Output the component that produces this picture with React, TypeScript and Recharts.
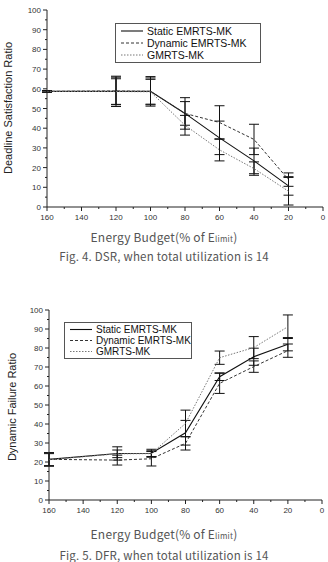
import { LineChart, Line, XAxis, YAxis, ErrorBar } from "recharts";

// energy budget (% of E_limit) sampled in both experiments
const budgets = [160, 120, 100, 80, 60, 40, 20];

// Fig. 4 – deadline satisfaction ratio
const dsrStatic = [58.7, 58.7, 58.7, 47.5, 35.1, 23.4, 10.7];
const dsrStaticErr = [0.4, 7.7, 7.5, 8, 8.5, 6.5, 4.7];
const dsrDynamic = [58.7, 58.9, 58.7, 47.5, 42.9, 34.3, 13.9];
const dsrDynamicErr = [0.4, 7, 6.8, 6, 8.5, 7.7, 3.4];
const dsrGm = [58.7, 58.6, 58.5, 41.5, 29, 19.5, 8];
const dsrGmErr = [0.4, 6.5, 6.3, 5, 5.6, 3.4, 7];

// Fig. 5 – dynamic failure ratio
const dfrStatic = [21.4, 24.5, 24.6, 35.4, 64.9, 75.4, 82];
const dfrStaticErr = [3.5, 3.5, 2.1, 6.5, 2, 4.5, 3.5];
const dfrDynamic = [21.4, 21, 21.7, 29.8, 61.4, 70.2, 78.6];
const dfrDynamicErr = [3.5, 2.6, 3.8, 3.5, 5.3, 3, 3.5];
const dfrGm = [21.2, 24.3, 24.4, 40.3, 74.9, 80.2, 91.2];
const dfrGmErr = [3.2, 2, 1.5, 7, 3.5, 5.8, 6.2];

const xTicks = [160, 150, 140, 130, 120, 110, 100, 90, 80, 70, 60, 50, 40, 30, 20, 10, 0];
const yTicks = [0, 5, 10, 15, 20, 25, 30, 35, 40, 45, 50, 55, 60, 65, 70, 75, 80, 85, 90, 95, 100];

const seriesStyle = [
  { key: "stat", name: "Static EMRTS-MK", stroke: "#111", dash: undefined, width: 1.1 },
  { key: "dyn", name: "Dynamic EMRTS-MK", stroke: "#333", dash: "3 2", width: 1 },
  { key: "gm", name: "GMRTS-MK", stroke: "#777", dash: "1.5 1.5", width: 1 },
];

function buildRows(s: number[], se: number[], d: number[], de: number[], g: number[], ge: number[]) {
  return budgets.map((b, i) => ({
    budget: b,
    stat: s[i], statErr: se[i],
    dyn: d[i], dynErr: de[i],
    gm: g[i], gmErr: ge[i],
  }));
}

const dsrRows = buildRows(dsrStatic, dsrStaticErr, dsrDynamic, dsrDynamicErr, dsrGm, dsrGmErr);
const dfrRows = buildRows(dfrStatic, dfrStaticErr, dfrDynamic, dfrDynamicErr, dfrGm, dfrGmErr);

const AXIS = "#222";
const TICK_FONT = "Arial, 'Liberation Sans', sans-serif";

function XTick(props: any) {
  const { x, y, payload } = props;
  const major = payload.value % 20 === 0;
  return (
    <g>
      <line x1={x} x2={x} y1={y} y2={y + (major ? 4 : 2)} stroke={AXIS} strokeWidth={1} />
      {major && (
        <text x={x} y={y + 13} textAnchor="middle" fontSize={8} fontFamily={TICK_FONT} fill="#333">
          {payload.value}
        </text>
      )}
    </g>
  );
}

function YTick(props: any) {
  const { x, y, payload } = props;
  const major = payload.value % 10 === 0;
  return (
    <g>
      <line x1={x - (major ? 4 : 2)} x2={x} y1={y} y2={y} stroke={AXIS} strokeWidth={1} />
      {major && (
        <text x={x - 6} y={y + 3} textAnchor="end" fontSize={8} fontFamily={TICK_FONT} fill="#333">
          {payload.value}
        </text>
      )}
    </g>
  );
}

function LegendBox({ left, top, w, rowH, fontSize }: { left: number; top: number; w: number; rowH: number; fontSize: number }) {
  const h = rowH * 3 + 4;
  return (
    <svg style={{ position: "absolute", left, top }} width={w} height={h}>
      <rect x={0.5} y={0.5} width={w - 1} height={h - 1} fill="#fff" stroke="#555" strokeWidth={1} />
      {seriesStyle.map((s, i) => {
        const cy = 2 + rowH * i + rowH / 2;
        return (
          <g key={s.key}>
            <line x1={6} x2={28} y1={cy} y2={cy} stroke={s.stroke} strokeWidth={s.width} strokeDasharray={s.dash} />
            <text x={32} y={cy + fontSize * 0.36} fontSize={fontSize} fontFamily={TICK_FONT} fill="#111">
              {s.name}
            </text>
          </g>
        );
      })}
    </svg>
  );
}

function Panel({ rows, width, height, margin, yWidth, xHeight }: any) {
  return (
    <LineChart width={width} height={height} data={rows} margin={margin}>
      <XAxis
        type="number"
        dataKey="budget"
        domain={[0, 160]}
        reversed
        ticks={xTicks}
        interval={0}
        height={xHeight}
        tickSize={0}
        tickMargin={0}
        tick={<XTick />}
        axisLine={{ stroke: AXIS }}
        tickLine={false}
      />
      <YAxis
        type="number"
        domain={[0, 100]}
        ticks={yTicks}
        interval={0}
        width={yWidth}
        tickSize={0}
        tickMargin={0}
        tick={<YTick />}
        axisLine={{ stroke: AXIS }}
        tickLine={false}
      />
      {seriesStyle.map((s) => (
        <Line
          key={s.key}
          dataKey={s.key}
          type="linear"
          stroke={s.stroke}
          strokeWidth={s.width}
          strokeDasharray={s.dash}
          dot={false}
          activeDot={false}
          isAnimationActive={false}
        >
          <ErrorBar dataKey={`${s.key}Err`} direction="y" width={5} stroke="#111" strokeWidth={1} />
        </Line>
      ))}
    </LineChart>
  );
}

const captionFont = "'Noto Sans CJK KR', 'Noto Sans', sans-serif";

function Caption({ top, children, size }: { top: number; children: any; size: number }) {
  return (
    <div
      style={{
        position: "absolute",
        left: 0,
        top,
        width: 328,
        textAlign: "center",
        fontFamily: captionFont,
        fontSize: size,
        color: "#555",
        lineHeight: 1,
        whiteSpace: "nowrap",
        letterSpacing: 0.2,
      }}
    >
      {children}
    </div>
  );
}

function EnergyLabel({ top }: { top: number }) {
  return (
    <Caption top={top} size={12}>
      Energy Budget(% of E<span style={{ fontSize: 8 }}>limit</span>)
    </Caption>
  );
}

function YLabel({ text, cx, cy }: { text: string; cx: number; cy: number }) {
  return (
    <div
      style={{
        position: "absolute",
        left: cx - 100,
        top: cy - 7,
        width: 200,
        height: 14,
        lineHeight: "14px",
        textAlign: "center",
        transform: "rotate(-90deg)",
        fontFamily: TICK_FONT,
        fontSize: 11,
        color: "#222",
        whiteSpace: "nowrap",
      }}
    >
      {text}
    </div>
  );
}

export default function App() {
  return (
    <div style={{ position: "absolute", left: 0, top: 0, width: 328, height: 562, background: "#fff", overflow: "hidden" }}>
      <div style={{ position: "absolute", left: 0, top: 0 }}>
        <Panel rows={dsrRows} width={328} height={230} margin={{ top: 10, right: 5, bottom: 0, left: 0 }} yWidth={47} xHeight={23} />
      </div>
      <LegendBox left={115} top={23} w={146} rowH={12} fontSize={10.5} />
      <YLabel text="Deadline Satisfaction Ratio" cx={8} cy={108} />
      <EnergyLabel top={231} />
      <Caption top={251} size={11.5}>Fig. 4. DSR, when total utilization is 14</Caption>

      <div style={{ position: "absolute", left: 0, top: 300 }}>
        <Panel rows={dfrRows} width={328} height={225} margin={{ top: 10, right: 6, bottom: 0, left: 0 }} yWidth={49} xHeight={25} />
      </div>
      <LegendBox left={64} top={322} w={128} rowH={11} fontSize={10} />
      <YLabel text="Dynamic Failure Ratio" cx={12} cy={407} />
      <EnergyLabel top={528} />
      <Caption top={550} size={11.5}>Fig. 5. DFR, when total utilization is 14</Caption>
    </div>
  );
}
